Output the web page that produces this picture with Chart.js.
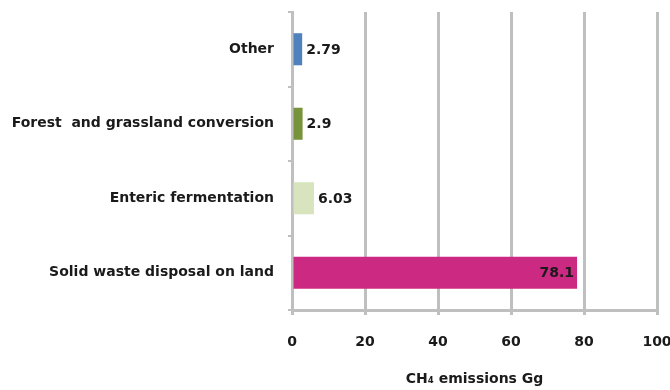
<!DOCTYPE html>
<html lang="en">
<head>
    <meta charset="UTF-8">
    <title>CH4 emissions by source</title>
    <script src="https://cdn.jsdelivr.net/npm/chart.js"></script>
    <style>
        body { margin: 0; background: #fff; }
        #wrap { width: 670px; height: 390px; }
    </style>
</head>
<body>
    <div id="wrap"><canvas id="myChart" width="670" height="390"></canvas></div>
    <script>
        const sources = ['Other', 'Forest  and grassland conversion', 'Enteric fermentation', 'Solid waste disposal on land'];
        const emissions = [2.79, 2.9, 6.03, 78.1];
        const barColors = ['#4f81bd', '#77933c', '#d7e4bd', '#cc2a82'];
        const xTicks = [0, 20, 40, 60, 80, 100];

        const gridGray = '#bfbfbf';
        const labelFont = { family: 'DejaVu Sans', weight: 'bold', size: 14 };

        // drop the extra room chart.js reserves for edge tick labels
        function noEdgePadding(scale) {
            scale.paddingLeft = 0;
            scale.paddingRight = 0;
            scale.paddingTop = 0;
            scale.paddingBottom = 0;
        }

        // value labels: outside the bar end for short bars, inside for long ones
        const valueLabels = {
            id: 'valueLabels',
            afterDatasetsDraw(chart) {
                const ctx = chart.ctx;
                const meta = chart.getDatasetMeta(0);
                ctx.save();
                ctx.font = 'bold 14px "DejaVu Sans"';
                ctx.fillStyle = '#1a1a1a';
                ctx.textBaseline = 'middle';
                meta.data.forEach((bar, i) => {
                    const v = emissions[i];
                    const txt = String(v);
                    if (v > 50) {
                        ctx.textAlign = 'right';
                        ctx.fillText(txt, bar.x - 3, bar.y + 1);
                    } else {
                        ctx.textAlign = 'left';
                        ctx.fillText(txt, bar.x + 4, bar.y + 1);
                    }
                });
                ctx.restore();
            }
        };

        new Chart(document.getElementById('myChart'), {
            type: 'bar',
            data: {
                labels: sources,
                datasets: [{
                    data: emissions,
                    backgroundColor: barColors,
                    borderWidth: 0,
                    categoryPercentage: 1,
                    barPercentage: 0.43
                }]
            },
            options: {
                indexAxis: 'y',
                responsive: false,
                animation: false,
                layout: { padding: { left: 0, right: 13, top: 12, bottom: 0 } },
                plugins: {
                    legend: { display: false },
                    tooltip: { enabled: false }
                },
                scales: {
                    x: {
                        min: xTicks[0],
                        max: xTicks[xTicks.length - 1],
                        afterBuildTicks(scale) {
                            scale.ticks = xTicks.map(v => ({ value: v }));
                        },
                        afterFit(scale) {
                            scale.height = 80;
                            noEdgePadding(scale);
                        },
                        grid: { color: gridGray, lineWidth: 3, tickLength: 5 },
                        border: { color: gridGray, width: 3 },
                        ticks: { color: '#1a1a1a', font: labelFont, padding: 19 },
                        title: {
                            display: true,
                            text: 'CH\u2084 emissions Gg',
                            color: '#1a1a1a',
                            font: labelFont,
                            padding: { top: 0, bottom: 2 }
                        }
                    },
                    y: {
                        afterFit(scale) {
                            scale.width = 292;
                            noEdgePadding(scale);
                        },
                        grid: { drawOnChartArea: false, color: gridGray, lineWidth: 2, tickLength: 4 },
                        border: { color: gridGray, width: 3 },
                        ticks: { color: '#1a1a1a', font: labelFont, padding: 14 }
                    }
                }
            },
            plugins: [valueLabels]
        });
    </script>
</body>
</html>
